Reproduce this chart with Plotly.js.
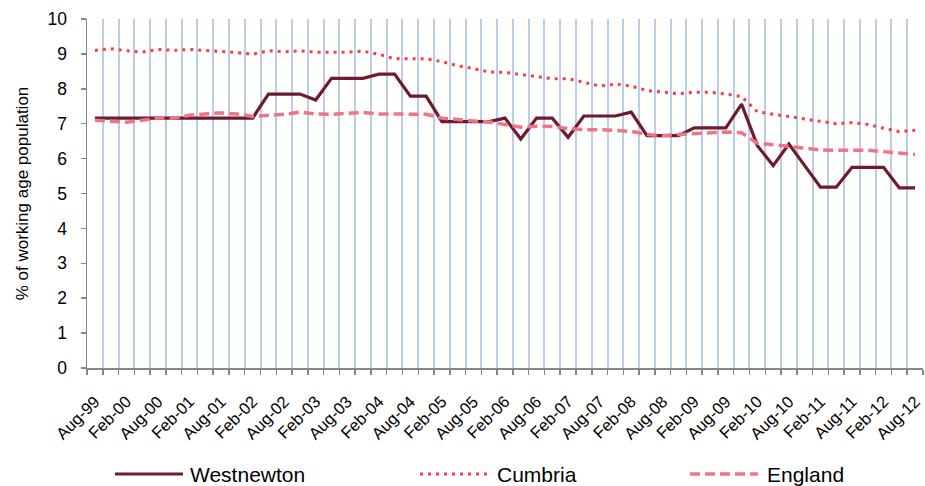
<!DOCTYPE html>
<html>
<head>
<meta charset="utf-8">
<script src="https://cdn.plot.ly/plotly-3.0.1.min.js"></script>
<style>html,body{margin:0;padding:0;background:#fff;}#chart{width:925px;height:486px;}</style>
</head>
<body>
<div id="chart"></div>
<script>
const quarters = ["Aug-99","Nov-99","Feb-00","May-00","Aug-00","Nov-00","Feb-01","May-01","Aug-01","Nov-01",
  "Feb-02","May-02","Aug-02","Nov-02","Feb-03","May-03","Aug-03","Nov-03","Feb-04","May-04",
  "Aug-04","Nov-04","Feb-05","May-05","Aug-05","Nov-05","Feb-06","May-06","Aug-06","Nov-06",
  "Feb-07","May-07","Aug-07","Nov-07","Feb-08","May-08","Aug-08","Nov-08","Feb-09","May-09",
  "Aug-09","Nov-09","Feb-10","May-10","Aug-10","Nov-10","Feb-11","May-11","Aug-11","Nov-11",
  "Feb-12","May-12","Aug-12"];
const tickLabels = ["Aug-99","","Feb-00","","Aug-00","","Feb-01","","Aug-01","",
  "Feb-02","","Aug-02","","Feb-03","","Aug-03","","Feb-04","",
  "Aug-04","","Feb-05","","Aug-05","","Feb-06","","Aug-06","",
  "Feb-07","","Aug-07","","Feb-08","","Aug-08","","Feb-09","",
  "Aug-09","","Feb-10","","Aug-10","","Feb-11","","Aug-11","",
  "Feb-12","","Aug-12"];
const westnewton = [7.16,7.16,7.16,7.16,7.16,7.16,7.16,7.16,7.16,7.16,
  7.16,7.85,7.85,7.85,7.68,8.30,8.30,8.30,8.42,8.42,
  7.79,7.79,7.06,7.06,7.06,7.06,7.16,6.56,7.16,7.16,
  6.61,7.22,7.22,7.22,7.33,6.66,6.66,6.66,6.88,6.88,
  6.88,7.56,6.37,5.80,6.42,5.80,5.18,5.18,5.75,5.75,
  5.75,5.16,5.16];
const cumbria = [9.10,9.15,9.09,9.05,9.13,9.10,9.13,9.10,9.09,9.04,
  8.99,9.09,9.06,9.09,9.05,9.04,9.05,9.08,8.99,8.86,
  8.86,8.86,8.78,8.66,8.58,8.48,8.47,8.41,8.36,8.29,
  8.29,8.18,8.08,8.13,8.08,7.95,7.90,7.86,7.90,7.90,
  7.85,7.78,7.34,7.27,7.21,7.15,7.07,7.00,7.03,6.98,
  6.87,6.77,6.81];
const england = [7.10,7.07,7.04,7.10,7.16,7.16,7.24,7.28,7.31,7.28,
  7.21,7.24,7.27,7.33,7.28,7.27,7.29,7.32,7.28,7.27,
  7.27,7.27,7.16,7.11,7.08,7.05,6.97,6.90,6.93,6.92,
  6.86,6.83,6.83,6.81,6.78,6.69,6.66,6.69,6.72,6.75,
  6.76,6.74,6.44,6.40,6.35,6.28,6.25,6.24,6.25,6.24,
  6.20,6.15,6.12];
const seriesNames = ["Westnewton","Cumbria","England"];
const yTitle = "% of working age population";

const FONT = "Liberation Sans, Arial, Helvetica, sans-serif";

const traces = [
  {x: quarters, y: westnewton, name: seriesNames[0], type: "scatter", mode: "lines",
   line: {color: "#6F1B2F", width: 3.2}, legend: "legend"},
  {x: quarters, y: cumbria, name: seriesNames[1], type: "scatter", mode: "lines",
   line: {color: "#FF3B3F", width: 3, dash: "3px,5px"}, legend: "legend2"},
  {x: quarters, y: england, name: seriesNames[2], type: "scatter", mode: "lines",
   line: {color: "#EE7486", width: 3.5, dash: "10px,5px"}, legend: "legend3"}
];

const legendBase = {orientation: "h", xanchor: "left", yanchor: "middle", y: -0.2,
  font: {family: FONT, size: 21, color: "#000"}, bgcolor: "rgba(0,0,0,0)", borderwidth: 0};

const layout = {
  width: 925, height: 486,
  margin: {l: 87, r: 2, t: 19, b: 118, pad: 0},
  paper_bgcolor: "#fff", plot_bgcolor: "#fff",
  font: {family: FONT, color: "#000"},
  showlegend: true,
  legend: Object.assign({}, legendBase, {x: 0.05}),
  legend2: Object.assign({}, legendBase, {x: 0.4}),
  legend3: Object.assign({}, legendBase, {x: 0.72}),
  xaxis: {
    type: "category", range: [-0.5, 52.5], tickson: "boundaries", automargin: false,
    tickmode: "array", tickvals: quarters, ticktext: tickLabels,
    tickangle: -45, tickfont: {family: FONT, size: 16.5, color: "#000"}, ticklabelstandoff: 16,
    showgrid: true, gridcolor: "#BACEE6", gridwidth: 2,
    ticks: "outside", ticklen: 5, tickcolor: "#868686", tickwidth: 1.5,
    showline: true, linecolor: "#868686", linewidth: 1.5, zeroline: false, fixedrange: true
  },
  yaxis: {
    range: [0, 10], dtick: 1, tick0: 0, showgrid: false, zeroline: false, automargin: false,
    showline: true, linecolor: "#868686", linewidth: 1.5,
    ticks: "outside", ticklen: 5, tickcolor: "#868686", tickwidth: 1.5,
    tickfont: {family: FONT, size: 17.5, color: "#000"}, ticklabelstandoff: 10,
    title: {text: yTitle, font: {family: FONT, size: 17, color: "#000"}, standoff: 14},
    fixedrange: true
  }
};

function adjustLegends(gd) {
  const ids = ["legend", "legend2", "legend3"];
  const lineStart = [115, 420, 690];
  const textStart = [190, 497, 767];
  const lineY = 474;
  ids.forEach(function (id, k) {
    const g = gd.querySelector(".infolayer g." + id);
    if (!g) return;
    g.querySelectorAll("[clip-path]").forEach(function (el) { el.removeAttribute("clip-path"); });
    const p = g.querySelector(".legendlines path");
    if (!p) return;
    p.setAttribute("d", "M5,0h68");
    let r = p.getBoundingClientRect();
    const m = /translate\(\s*([-\d.e]+)[\s,]+([-\d.e]+)\s*\)/.exec(g.getAttribute("transform") || "");
    const a = m ? parseFloat(m[1]) : 0, b = m ? parseFloat(m[2]) : 0;
    g.setAttribute("transform", "translate(" + (a + lineStart[k] - r.left) + "," + (b + lineY - (r.top + r.height / 2)) + ")");
    g.querySelectorAll("text").forEach(function (t) {
      t.removeAttribute("transform");
      const tr = t.getBoundingClientRect();
      const dx = textStart[k] - tr.left;
      t.setAttribute("transform", "translate(" + dx + ",0)");
    });
  });
}

Plotly.newPlot("chart", traces, layout, {staticPlot: true, displayModeBar: false}).then(function (gd) {
  adjustLegends(gd);
  setTimeout(function () { adjustLegends(gd); }, 50);
});
</script>
</body>
</html>
